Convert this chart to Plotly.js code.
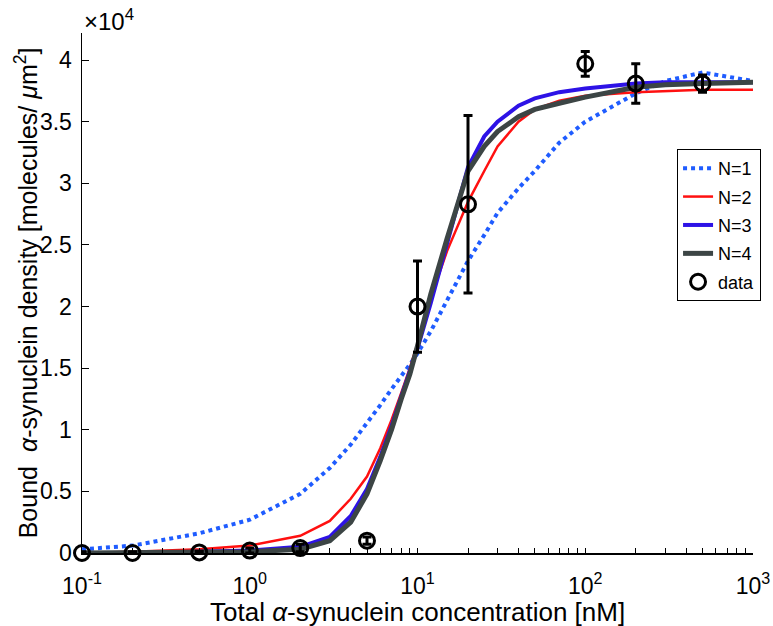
<!DOCTYPE html>
<html>
<head>
<meta charset="utf-8">
<script src="https://cdn.plot.ly/plotly-3.0.1.min.js"></script>
<style>html,body{margin:0;padding:0;background:#fff;}#chart{width:773px;height:626px;}</style>
</head>
<body>
<div id="chart"></div>
<script>
// Concentrations [nM] for the model curves
var curveX = [0.1, 0.2, 0.5, 1, 2, 3, 4, 5, 6, 7, 8, 9, 10, 12, 15, 20, 25, 30, 40, 50, 70, 100, 200, 300, 500, 1000];
// Bound density, in units of 10^4 molecules/um^2
var n1 = [0.03, 0.06, 0.16, 0.27, 0.48, 0.69, 0.88, 1.05, 1.2, 1.33, 1.43, 1.53, 1.62, 1.8, 2.05, 2.37, 2.58, 2.76, 2.96, 3.1, 3.33, 3.5, 3.73, 3.83, 3.9, 3.83];
var n2 = [0.0, 0.01, 0.03, 0.06, 0.14, 0.26, 0.44, 0.62, 0.85, 1.08, 1.3, 1.5, 1.7, 2.07, 2.45, 2.85, 3.1, 3.3, 3.5, 3.6, 3.67, 3.71, 3.74, 3.75, 3.76, 3.76];
var n3 = [0.0, 0.0, 0.01, 0.02, 0.05, 0.13, 0.3, 0.52, 0.78, 1.03, 1.27, 1.47, 1.66, 2.03, 2.5, 3.13, 3.38, 3.5, 3.63, 3.69, 3.74, 3.77, 3.81, 3.82, 3.82, 3.82];
var n4 = [0.0, 0.0, 0.0, 0.01, 0.03, 0.1, 0.25, 0.48, 0.75, 1.0, 1.25, 1.45, 1.68, 2.1, 2.55, 3.1, 3.3, 3.42, 3.54, 3.6, 3.65, 3.7, 3.78, 3.8, 3.81, 3.82];
// Measured data
var dataX = [0.1, 0.2, 0.5, 1, 2, 5, 10, 20, 100, 200, 500];
var dataY = [0.0, 0.0, 0.005, 0.02, 0.04, 0.1, 2.0, 2.83, 3.97, 3.81, 3.81];
var dataErr = [0.01, 0.01, 0.01, 0.02, 0.03, 0.03, 0.37, 0.72, 0.1, 0.16, 0.07];
// Axis ticks
var xTickVals = [0.1, 1, 10, 100, 1000];
var xTickText = ['10<sup>-1</sup>', '10<sup>0</sup>', '10<sup>1</sup>', '10<sup>2</sup>', '10<sup>3</sup>'];
var xMinorDigits = [2, 3, 4, 5, 6, 7, 8, 9];
var yTickVals = [0, 0.5, 1, 1.5, 2, 2.5, 3, 3.5, 4];
var yTickText = ['0', '0.5', '1', '1.5', '2', '2.5', '3', '3.5', '4'];

var minorX = [];
xTickVals.forEach(function (d) {
  if (d < 1000) xMinorDigits.forEach(function (m) { minorX.push(d * m); });
});

var FONT = 'Liberation Sans, Arial, Helvetica, sans-serif';

var traces = [
  {x: curveX, y: n1, name: 'N=1', legendgroup: 'a', mode: 'lines', line: {color: '#1f5cff', width: 4, dash: 'dot'}},
  {x: curveX, y: n2, name: 'N=2', legendgroup: 'b', mode: 'lines', line: {color: '#ff1010', width: 2.5}},
  {x: curveX, y: n3, name: 'N=3', legendgroup: 'c', mode: 'lines', line: {color: '#2d12e6', width: 4}},
  {x: curveX, y: n4, name: 'N=4', legendgroup: 'd', mode: 'lines', line: {color: '#3c4545', width: 5}},
  {x: dataX, y: dataY, name: 'data', legendgroup: 'e', mode: 'markers', cliponaxis: false,
   marker: {symbol: 'circle-open', size: 15, color: '#000', line: {color: '#000', width: 3}},
   error_y: {type: 'data', array: dataErr, visible: true, color: '#000', thickness: 3, width: 4.5}}
];

var layout = {
  width: 773, height: 626,
  margin: {l: 82, r: 20, t: 33, b: 73, pad: 0, autoexpand: false},
  paper_bgcolor: '#fff', plot_bgcolor: '#fff',
  font: {family: FONT, color: '#000', size: 23},
  showlegend: true,
  legend: {x: 1.012, y: 0.777, xanchor: 'right', yanchor: 'top', bgcolor: '#fff', traceorder: 'grouped', tracegroupgap: 2,
           bordercolor: '#000', borderwidth: 1, font: {family: FONT, size: 18, color: '#000'}},
  xaxis: {type: 'log', range: [-1, 3], tickmode: 'array', tickvals: xTickVals, ticktext: xTickText,
          ticks: 'inside', ticklen: 5, tickwidth: 1, tickcolor: '#000',
          minor: {tickmode: 'array', tickvals: minorX, ticks: 'inside', ticklen: 5, tickwidth: 1, tickcolor: '#000', showgrid: false},
          showline: true, linecolor: '#000', linewidth: 1.5, showgrid: false, zeroline: false,
          ticklabelstandoff: 12, automargin: false,
          tickfont: {family: FONT, size: 23, color: '#000'}},
  yaxis: {range: [0, 4.22], tickmode: 'array', tickvals: yTickVals, ticktext: yTickText,
          ticks: 'inside', ticklen: 7, tickwidth: 1, tickcolor: '#000',
          showline: true, linecolor: '#000', linewidth: 1.5, showgrid: false, zeroline: false,
          ticklabelstandoff: 4, automargin: false,
          tickfont: {family: FONT, size: 23, color: '#000'}},
  annotations: [
    {xref: 'paper', yref: 'paper', x: 0, y: 1, xanchor: 'left', yanchor: 'bottom',
     xshift: 0, yshift: -4, showarrow: false, text: '×10<sup>4</sup>',
     font: {family: FONT, size: 24, color: '#000'}},
    {xref: 'paper', yref: 'paper', x: 0.5, y: -0.113, xanchor: 'center', yanchor: 'middle', showarrow: false,
     text: 'Total <i>α</i>-synuclein concentration [nM]', font: {family: FONT, size: 26, color: '#000'}},
    {xref: 'paper', yref: 'paper', x: -0.083, y: 0.5, xanchor: 'center', yanchor: 'middle', showarrow: false, textangle: -90,
     text: 'Bound  <i>α</i>-synuclein density [molecules/ <i>μ</i>m<sup>2</sup>]', font: {family: FONT, size: 25, color: '#000'}}
  ]
};

Plotly.newPlot('chart', traces, layout, {staticPlot: true, displayModeBar: false});
</script>
</body>
</html>
